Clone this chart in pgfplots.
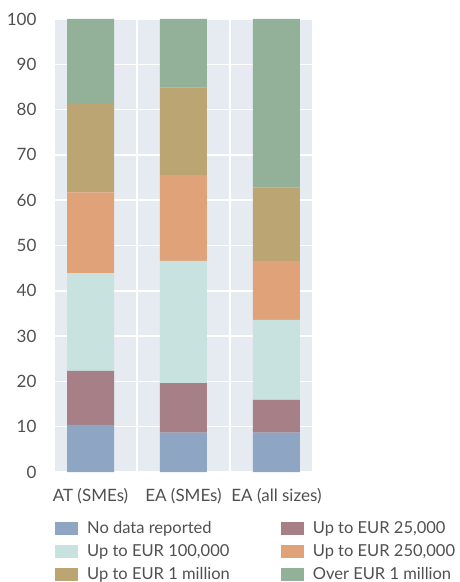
\documentclass[border=0pt]{standalone}
\usepackage{fontspec}
\setmainfont{Lato}
\usepackage{pgfplots}
\pgfplotsset{compat=1.18}
\definecolor{cblue}{HTML}{8FA5C4}
\definecolor{cmauve}{HTML}{A68086}
\definecolor{cteal}{HTML}{C8E2DF}
\definecolor{corange}{HTML}{E0A278}
\definecolor{ctan}{HTML}{BBA573}
\definecolor{cgreen}{HTML}{93B098}
\definecolor{cbg}{HTML}{E6EAF1}
\definecolor{ctext}{HTML}{505050}
\begin{document}
\begin{tikzpicture}
\useasboundingbox (-55pt,-110pt) rectangle (404pt,472pt);
\begin{axis}[
  at={(0,0)}, anchor=south west,
  scale only axis, width=257pt, height=453pt,
  ybar stacked, bar width=47pt,
  xmin=-0.382, xmax=2.382, ymin=0, ymax=100,
  xtick={0,1,2}, xticklabels={AT (SMEs),EA (SMEs),EA (all sizes)},
  minor xtick={0.5,1.5},
  ytick={0,10,...,100},
  axis background/.style={fill=cbg},
  axis line style={draw=none},
  major tick length=0pt, minor tick length=0pt,
  ymajorgrids, xminorgrids,
  grid style={white, line width=1.5pt},
  minor grid style={white, line width=1.5pt},
  tick label style={font=\fontsize{17}{20}\selectfont, text=ctext},
  yticklabel style={xshift=-15pt},
  xticklabel style={yshift=-13pt},
  /pgf/number format/assume math mode=true,
  legend columns=2,
  legend cell align=left,
  legend style={at={(0,-47pt)}, anchor=north west, draw=none, fill=none,
    font=\fontsize{16.5}{20}\selectfont, text=ctext, row sep=5.5pt,
    inner sep=0pt,
    /tikz/every even column/.append style={column sep=49pt}},
  legend image code/.code={\fill[#1] (0pt,-6.5pt) rectangle (23pt,6.5pt); \path (30pt,0pt);},
]
\addplot[fill=cblue, draw=none] coordinates {(0,10.4) (1,8.7) (2,8.7)};
\addlegendentry{No data reported}
\addplot[fill=cmauve, draw=none] coordinates {(0,11.9) (1,10.9) (2,7.2)};
\addlegendentry{Up to EUR 25,000}
\addplot[fill=cteal, draw=none] coordinates {(0,21.6) (1,27.0) (2,17.7)};
\addlegendentry{Up to EUR 100,000}
\addplot[fill=corange, draw=none] coordinates {(0,17.8) (1,19.0) (2,13.0)};
\addlegendentry{Up to EUR 250,000}
\addplot[fill=ctan, draw=none] coordinates {(0,19.5) (1,19.3) (2,16.2)};
\addlegendentry{Up to EUR 1 million}
\addplot[fill=cgreen, draw=none] coordinates {(0,18.8) (1,15.1) (2,37.2)};
\addlegendentry{Over EUR 1 million}
\end{axis}
\end{tikzpicture}
\end{document}
